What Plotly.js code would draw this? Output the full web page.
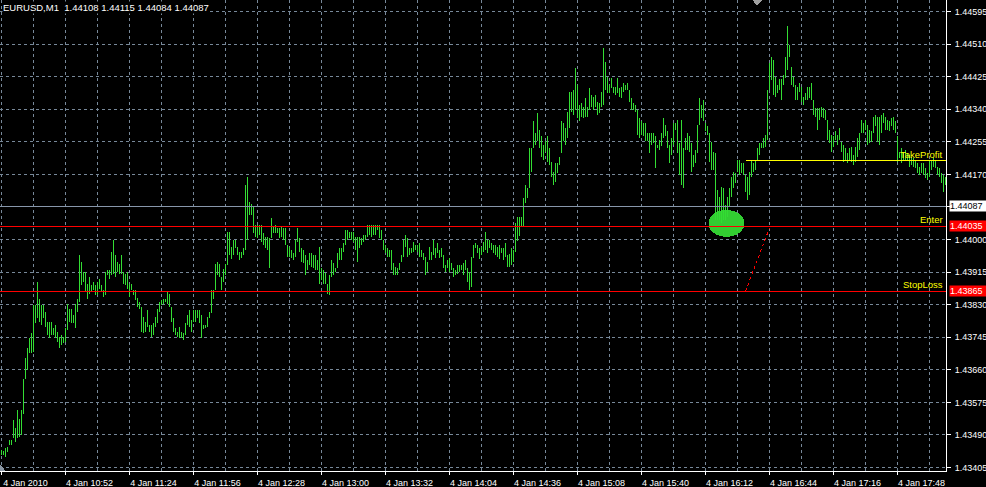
<!DOCTYPE html>
<html>
<head>
<meta charset="utf-8">
<script src="https://cdn.plot.ly/plotly-3.0.1.min.js"></script>
<style>
html,body{margin:0;padding:0;background:#000;}
#chart{width:986px;height:487px;}
#chart .shapelayer path, #chart .scatterlayer path{shape-rendering:crispEdges;}
</style>
</head>
<body>
<div id="chart"></div>
<script>
// ---- data (EURUSD M1, 4 Jan 2010, one bar per minute from 10:20) ----
const symbolTitle = "EURUSD,M1\u00a0\u00a01.44108 1.44115 1.44084 1.44087";
const firstBar = "2010-01-04 10:20";

const barHigh = [
1.43450,1.43448,1.43456,1.43459,1.43476,1.43476,1.43529,1.43507,1.43555,1.43533,
1.43555,1.43637,1.43690,1.43716,1.43742,1.43755,1.43829,1.43829,1.43890,1.43846,
1.43829,1.43829,1.43811,1.43785,1.43785,1.43785,1.43768,1.43776,1.43759,1.43746,
1.43750,1.43746,1.43768,1.43833,1.43820,1.43820,1.43803,1.43833,1.43846,1.43959,
1.43942,1.43916,1.43916,1.43885,1.43903,1.43881,1.43890,1.43881,1.43890,1.43898,
1.43881,1.43868,1.43916,1.43920,1.43920,1.43968,1.43998,1.43959,1.43942,1.43937,
1.43959,1.43916,1.43911,1.43916,1.43885,1.43885,1.43868,1.43868,1.43848,1.43837,
1.43824,1.43798,1.43785,1.43816,1.43776,1.43776,1.43781,1.43798,1.43820,1.43837,
1.43842,1.43846,1.43846,1.43864,1.43859,1.43824,1.43794,1.43768,1.43759,1.43772,
1.43759,1.43755,1.43781,1.43803,1.43816,1.43790,1.43816,1.43816,1.43816,1.43816,
1.43803,1.43776,1.43776,1.43798,1.43811,1.43868,1.43868,1.43937,1.43942,1.43937,
1.43903,1.43924,1.43937,1.44020,1.44020,1.43981,1.43998,1.43998,1.43981,1.43968,
1.43968,1.43977,1.44142,1.44164,1.44099,1.44094,1.44086,1.44038,1.44038,1.44038,
1.44038,1.44016,1.44007,1.44007,1.44003,1.44055,1.44033,1.44038,1.44029,1.44029,
1.44033,1.44029,1.44029,1.43985,1.43981,1.43972,1.43964,1.43998,1.44029,1.44003,
1.43977,1.43972,1.43959,1.43946,1.43964,1.43964,1.43959,1.43959,1.43946,1.43981,
1.43925,1.43920,1.43912,1.43885,1.43907,1.43946,1.43938,1.43925,1.43964,1.43977,
1.43977,1.43990,1.44024,1.44024,1.44020,1.44020,1.44020,1.44007,1.44007,1.44007,
1.44003,1.44012,1.44012,1.44038,1.44038,1.44038,1.44038,1.44038,1.44038,1.44038,
1.44024,1.43998,1.43985,1.43977,1.43972,1.43972,1.43938,1.43929,1.43925,1.43938,
1.43959,1.43998,1.44012,1.44003,1.43977,1.43977,1.43994,1.43985,1.43985,1.43990,
1.43972,1.43964,1.43955,1.43942,1.43981,1.43968,1.43998,1.43977,1.43990,1.43972,
1.43977,1.43959,1.43933,1.43946,1.43951,1.43938,1.43925,1.43920,1.43933,1.43933,
1.43933,1.43938,1.43946,1.43925,1.43916,1.43955,1.43985,1.43990,1.43985,1.43977,
1.43981,1.43994,1.44020,1.43998,1.43998,1.43990,1.43985,1.43985,1.43981,1.43985,
1.43977,1.43977,1.43990,1.43959,1.43963,1.43977,1.43972,1.44042,1.44060,1.44060,
1.44060,1.44108,1.44142,1.44134,1.44238,1.44238,1.44308,1.44277,1.44330,1.44286,
1.44269,1.44247,1.44256,1.44269,1.44238,1.44203,1.44177,1.44199,1.44199,1.44216,
1.44308,1.44303,1.44290,1.44334,1.44386,1.44386,1.44390,1.44447,1.44403,1.44351,
1.44356,1.44347,1.44369,1.44347,1.44395,1.44377,1.44373,1.44377,1.44360,1.44356,
1.44386,1.44499,1.44464,1.44425,1.44403,1.44421,1.44399,1.44399,1.44421,1.44395,
1.44399,1.44408,1.44403,1.44408,1.44390,1.44369,1.44356,1.44351,1.44338,1.44317,
1.44308,1.44303,1.44303,1.44277,1.44277,1.44277,1.44277,1.44269,1.44247,1.44260,
1.44277,1.44317,1.44299,1.44282,1.44247,1.44264,1.44303,1.44303,1.44312,1.44251,
1.44312,1.44238,1.44264,1.44277,1.44269,1.44251,1.44221,1.44234,1.44299,1.44369,
1.44351,1.44364,1.44303,1.44295,1.44277,1.44255,1.44229,1.44225,1.44129,1.44112,
1.44138,1.44134,1.44090,1.44112,1.44134,1.44164,1.44177,1.44173,1.44208,1.44208,
1.44199,1.44199,1.44168,1.44164,1.44177,1.44208,1.44199,1.44208,1.44238,1.44251,
1.44251,1.44264,1.44273,1.44390,1.44460,1.44477,1.44469,1.44425,1.44403,1.44420,
1.44420,1.44429,1.44477,1.44556,1.44508,1.44451,1.44425,1.44403,1.44399,1.44408,
1.44399,1.44373,1.44382,1.44399,1.44399,1.44408,1.44364,1.44343,1.44343,1.44343,
1.44347,1.44343,1.44338,1.44312,1.44286,1.44273,1.44269,1.44282,1.44273,1.44290,
1.44255,1.44247,1.44238,1.44225,1.44238,1.44242,1.44221,1.44242,1.44264,1.44277,
1.44312,1.44303,1.44312,1.44299,1.44286,1.44282,1.44320,1.44325,1.44320,1.44320,
1.44325,1.44329,1.44320,1.44312,1.44308,1.44316,1.44320,1.44308,1.44269,1.44229,
1.44238,1.44229,1.44234,1.44225,1.44221,1.44216,1.44212,1.44208,1.44199,1.44190,
1.44199,1.44199,1.44186,1.44173,1.44208,1.44208,1.44212,1.44208,1.44190,1.44186,
1.44173,1.44168,1.44164
];

const barLow = [
1.43439,1.43437,1.43433,1.43446,1.43463,1.43465,1.43481,1.43472,1.43481,1.43485,
1.43489,1.43546,1.43637,1.43659,1.43703,1.43703,1.43707,1.43781,1.43794,1.43785,
1.43777,1.43794,1.43772,1.43750,1.43743,1.43750,1.43750,1.43742,1.43733,1.43716,
1.43724,1.43729,1.43733,1.43763,1.43785,1.43781,1.43781,1.43768,1.43811,1.43837,
1.43881,1.43890,1.43864,1.43846,1.43859,1.43864,1.43868,1.43855,1.43855,1.43872,
1.43864,1.43850,1.43855,1.43907,1.43898,1.43907,1.43911,1.43903,1.43916,1.43911,
1.43911,1.43885,1.43881,1.43872,1.43850,1.43868,1.43855,1.43842,1.43824,1.43820,
1.43759,1.43755,1.43759,1.43772,1.43759,1.43746,1.43750,1.43772,1.43781,1.43811,
1.43829,1.43833,1.43837,1.43833,1.43824,1.43785,1.43759,1.43750,1.43746,1.43742,
1.43742,1.43737,1.43750,1.43777,1.43772,1.43759,1.43785,1.43785,1.43794,1.43781,
1.43743,1.43766,1.43768,1.43772,1.43794,1.43807,1.43846,1.43868,1.43907,1.43903,
1.43868,1.43890,1.43907,1.43933,1.43959,1.43950,1.43959,1.43977,1.43959,1.43946,
1.43951,1.43959,1.43972,1.43998,1.44064,1.44064,1.44016,1.44007,1.44003,1.44012,
1.43994,1.43985,1.43977,1.43972,1.43925,1.44003,1.44016,1.44016,1.44016,1.44003,
1.44007,1.43998,1.43985,1.43955,1.43955,1.43951,1.43946,1.43955,1.43994,1.43968,
1.43942,1.43938,1.43907,1.43920,1.43933,1.43929,1.43925,1.43920,1.43920,1.43885,
1.43894,1.43885,1.43885,1.43859,1.43855,1.43903,1.43907,1.43916,1.43925,1.43946,
1.43946,1.43968,1.43985,1.43998,1.44003,1.43998,1.43994,1.43972,1.43942,1.43977,
1.43985,1.43994,1.43998,1.44007,1.44012,1.44007,1.44012,1.44012,1.44025,1.44003,
1.43998,1.43972,1.43964,1.43955,1.43955,1.43920,1.43907,1.43907,1.43907,1.43920,
1.43942,1.43955,1.43981,1.43955,1.43959,1.43964,1.43968,1.43972,1.43968,1.43955,
1.43955,1.43946,1.43907,1.43916,1.43946,1.43946,1.43959,1.43951,1.43964,1.43951,
1.43955,1.43925,1.43916,1.43925,1.43916,1.43920,1.43903,1.43907,1.43911,1.43916,
1.43920,1.43907,1.43920,1.43890,1.43868,1.43877,1.43951,1.43977,1.43964,1.43950,
1.43959,1.43968,1.43972,1.43964,1.43977,1.43972,1.43964,1.43959,1.43955,1.43950,
1.43964,1.43946,1.43955,1.43929,1.43929,1.43933,1.43942,1.43968,1.43995,1.44010,
1.44034,1.44034,1.44095,1.44108,1.44134,1.44177,1.44238,1.44247,1.44256,1.44238,
1.44216,1.44208,1.44229,1.44203,1.44195,1.44164,1.44142,1.44151,1.44173,1.44195,
1.44225,1.44256,1.44247,1.44264,1.44290,1.44334,1.44325,1.44338,1.44317,1.44308,
1.44321,1.44317,1.44321,1.44321,1.44338,1.44347,1.44338,1.44347,1.44325,1.44330,
1.44347,1.44351,1.44390,1.44382,1.44382,1.44395,1.44382,1.44377,1.44382,1.44373,
1.44369,1.44386,1.44390,1.44390,1.44360,1.44338,1.44338,1.44334,1.44273,1.44264,
1.44273,1.44269,1.44256,1.44256,1.44225,1.44247,1.44251,1.44186,1.44238,1.44234,
1.44243,1.44264,1.44269,1.44238,1.44199,1.44221,1.44247,1.44286,1.44225,1.44169,
1.44142,1.44134,1.44234,1.44234,1.44229,1.44177,1.44190,1.44199,1.44225,1.44299,
1.44317,1.44308,1.44282,1.44273,1.44203,1.44181,1.44181,1.44051,1.44051,1.44051,
1.44042,1.44051,1.44051,1.44060,1.44086,1.44112,1.44134,1.44147,1.44177,1.44168,
1.44173,1.44168,1.44125,1.44103,1.44116,1.44164,1.44177,1.44181,1.44208,1.44221,
1.44238,1.44238,1.44242,1.44260,1.44390,1.44416,1.44377,1.44373,1.44382,1.44390,
1.44364,1.44403,1.44421,1.44443,1.44477,1.44403,1.44399,1.44364,1.44364,1.44386,
1.44360,1.44351,1.44364,1.44364,1.44369,1.44364,1.44325,1.44321,1.44286,1.44312,
1.44321,1.44316,1.44312,1.44260,1.44251,1.44229,1.44242,1.44260,1.44247,1.44260,
1.44229,1.44203,1.44208,1.44199,1.44208,1.44203,1.44195,1.44203,1.44216,1.44234,
1.44277,1.44277,1.44286,1.44247,1.44251,1.44255,1.44277,1.44295,1.44255,1.44247,
1.44277,1.44303,1.44286,1.44286,1.44282,1.44295,1.44286,1.44277,1.44203,1.44212,
1.44199,1.44208,1.44208,1.44208,1.44190,1.44195,1.44190,1.44186,1.44173,1.44168,
1.44173,1.44168,1.44160,1.44155,1.44164,1.44181,1.44190,1.44186,1.44168,1.44164,
1.44147,1.44125,1.44142
];

// x-axis labels (every 32 minutes) and grid (every 16 minutes)
const tickTimes = ["10:20","10:52","11:24","11:56","12:28","13:00","13:32","14:04",
  "14:36","15:08","15:40","16:12","16:44","17:16","17:48"];
const tickLabels = ["4 Jan 2010","4 Jan 10:52","4 Jan 11:24","4 Jan 11:56","4 Jan 12:28",
  "4 Jan 13:00","4 Jan 13:32","4 Jan 14:04","4 Jan 14:36","4 Jan 15:08","4 Jan 15:40",
  "4 Jan 16:12","4 Jan 16:44","4 Jan 17:16","4 Jan 17:48"];
const gridMinutes = 16;

// price scale
const priceTicks = [1.43405,1.43490,1.43575,1.43660,1.43745,1.43830,1.43915,1.44000,1.44085,
  1.44170,1.44255,1.44340,1.44425,1.44510,1.44595];
const priceTickText = ["1.43405","1.43490","1.43575","1.43660","1.43745","1.43830","1.43915","1.44000","",
  "1.44170","1.44255","1.44340","1.44425","1.44510","1.44595"];
const priceRange = [1.43396, 1.44625];

// trade levels and objects
const bidPrice = 1.44087;
const enterPrice = 1.44035;
const stopLossPrice = 1.43865;
const takeProfitPrice = 1.44205;
const takeProfitFrom = "2010-01-04 16:32";
const tradeLineFrom = ["2010-01-04 16:32", 1.43865];
const tradeLineTo = ["2010-01-04 16:44", 1.44030];
const ellipseTime = ["2010-01-04 16:13:30", "2010-01-04 16:31:30"];
const ellipsePrice = [1.44007, 1.44077];
const viewTime = ["2010-01-04 10:19:15", "2010-01-04 18:12:15"];

// ---- build ----
function timeAt(i) {
  const d = new Date(Date.UTC(2010, 0, 4, 10, 20) + i * 60000);
  return d.toISOString().slice(0, 19).replace("T", " ");
}
const segX = [], segY = [];
for (let i = 0; i < barHigh.length; i++) {
  const t = timeAt(i);
  segX.push(t, t, null);
  segY.push(barLow[i], barHigh[i], null);
}

const FONT = "Liberation Sans, Arial, sans-serif";
const GRID = "#778899";

const traces = [{
  type: "scatter", mode: "lines", x: segX, y: segY,
  line: {color: "#33dd33", width: 1}, hoverinfo: "skip", connectgaps: false
}];

const lbl = (txt, y) => ({
  xref: "paper", yref: "y", x: 1, y: y, text: txt, showarrow: false,
  xanchor: "right", yanchor: "bottom", yshift: -1, xshift: -1,
  font: {family: FONT, size: 9.5, color: "#ffff00"}
});
const box = (txt, y, bg, fg) => ({
  xref: "paper", yref: "y", x: 1, y: y, text: txt, showarrow: false,
  xanchor: "left", yanchor: "middle", xshift: 3, width: 37, align: "left", height: 10,
  bgcolor: bg, borderpad: 0, font: {family: FONT, size: 9, color: fg}
});

const layout = {
  width: 986, height: 487,
  paper_bgcolor: "#000000", plot_bgcolor: "#000000",
  margin: {l: 0, r: 40, t: 0, b: 16, pad: 0},
  showlegend: false,
  xaxis: {
    type: "date", range: viewTime,
    tickmode: "array", tickvals: tickTimes.map(s => "2010-01-04 " + s), ticktext: tickLabels,
    showgrid: true, gridcolor: GRID, griddash: "3px,3px", gridwidth: 1,
    minor: {tickmode: "linear", tick0: firstBar, dtick: gridMinutes * 60000,
            showgrid: true, gridcolor: GRID, griddash: "3px,3px", gridwidth: 1, ticks: ""},
    showline: true, linecolor: "#ffffff", linewidth: 1,
    ticks: "outside", ticklen: 3, tickcolor: "#ffffff",
    tickfont: {family: FONT, size: 9, color: "#ffffff"},
    ticklabelshift: 24, ticklabelstandoff: 0,
    zeroline: false, fixedrange: true
  },
  yaxis: {
    side: "right", range: priceRange,
    tickmode: "array", tickvals: priceTicks, ticktext: priceTickText,
    showgrid: true, gridcolor: GRID, griddash: "3px,3px", gridwidth: 1,
    showline: true, linecolor: "#ffffff", linewidth: 1,
    ticks: "outside", ticklen: 4, tickcolor: "#ffffff",
    tickfont: {family: FONT, size: 9, color: "#ffffff"},
    ticklabelstandoff: 2,
    zeroline: false, fixedrange: true
  },
  shapes: [
    {type: "circle", xref: "x", yref: "y", x0: ellipseTime[0], x1: ellipseTime[1],
     y0: ellipsePrice[0], y1: ellipsePrice[1], fillcolor: "#32cd32", line: {width: 0}, layer: "between"},
    {type: "line", xref: "paper", yref: "y", x0: 0, x1: 1, y0: bidPrice, y1: bidPrice,
     line: {color: "#8796aa", width: 1}},
    {type: "line", xref: "paper", yref: "y", x0: 0, x1: 1, y0: enterPrice, y1: enterPrice,
     line: {color: "#ff0000", width: 1}},
    {type: "line", xref: "paper", yref: "y", x0: 0, x1: 1, y0: stopLossPrice, y1: stopLossPrice,
     line: {color: "#ff0000", width: 1}},
    {type: "line", xref: "x", yref: "y", x0: takeProfitFrom, x1: viewTime[1],
     y0: takeProfitPrice, y1: takeProfitPrice, line: {color: "#ffff00", width: 1}},
    {type: "line", xref: "x", yref: "y", x0: tradeLineFrom[0], y0: tradeLineFrom[1],
     x1: tradeLineTo[0], y1: tradeLineTo[1], line: {color: "#ff0000", width: 1, dash: "dot"}},
    // chart-shift marker (top) and corner marker (bottom-left)
    {type: "path", xref: "paper", yref: "paper", path: "M 0.7950 1 L 0.8056 1 L 0.8003 0.989 Z",
     fillcolor: "#a0a0a0", line: {width: 0}},
    {type: "path", xref: "paper", yref: "paper", path: "M 0 0.015 L 0 0 L 0.0058 0 Z",
     fillcolor: "#8a96a4", line: {width: 0}}
  ],
  annotations: [
    {xref: "paper", yref: "paper", x: 0, y: 1, xanchor: "left", yanchor: "top", xshift: 2, yshift: -1,
     text: symbolTitle, showarrow: false, bgcolor: "#000000", borderpad: 0,
     font: {family: FONT, size: 9.5, color: "#ffffff"}},
    lbl("TakeProfit", takeProfitPrice),
    lbl("Enter", enterPrice),
    lbl("StopLoss", stopLossPrice),
    box("1.44087", bidPrice, "#ffffff", "#000000"),
    box("1.44035", enterPrice, "#ff0000", "#ffffff"),
    box("1.43865", stopLossPrice, "#ff0000", "#ffffff")
  ]
};

Plotly.newPlot("chart", traces, layout, {staticPlot: true, displayModeBar: false});
</script>
</body>
</html>
